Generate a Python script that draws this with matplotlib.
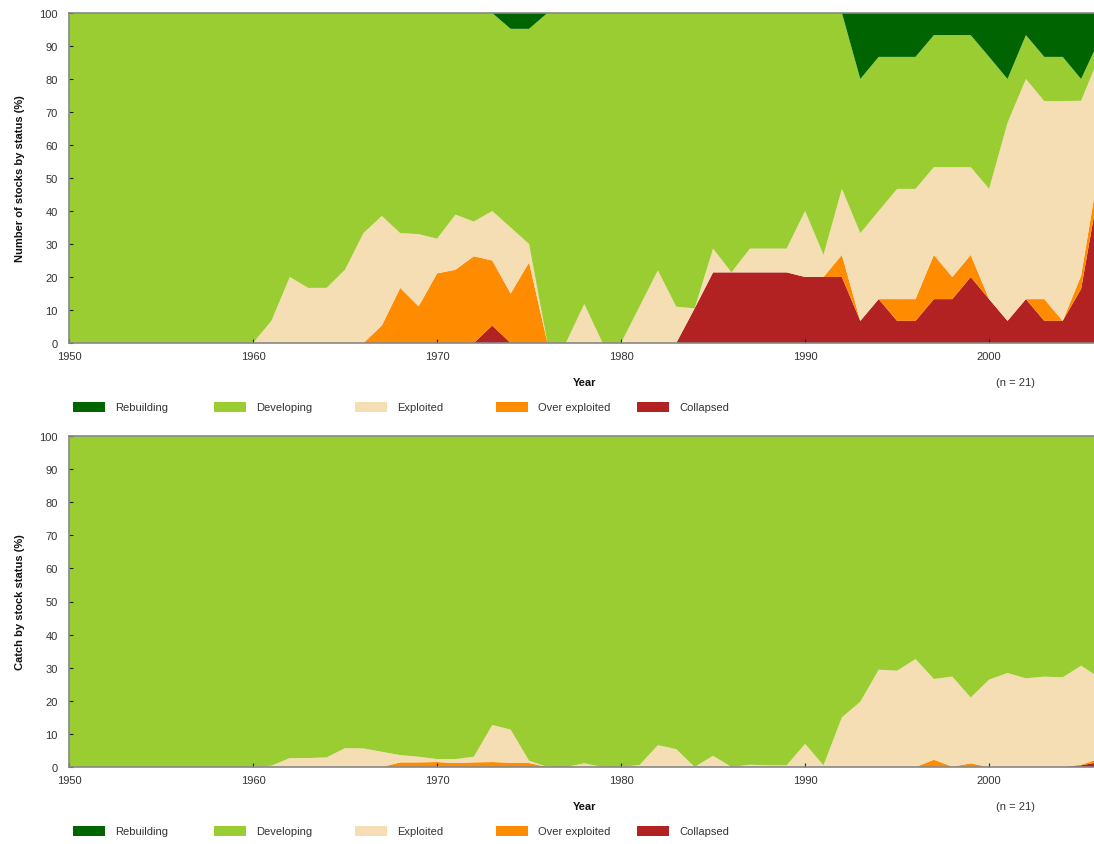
import matplotlib
matplotlib.use("Agg")
import matplotlib.pyplot as plt
from matplotlib.patches import Rectangle

plt.rcParams['font.family'] = ['Liberation Sans', 'DejaVu Sans']

years = list(range(1950, 2007))

# top panel: share of stocks by status (%), one value per year 1950-2006
stock_collapsed = (
    [0, 0, 0, 0, 0, 0, 0, 0, 0, 0] +
    [0, 0, 0, 0, 0, 0, 0, 0, 0, 0] +
    [0, 0, 0, 5.3, 0, 0, 0, 0, 0, 0] +
    [0, 0, 0, 0, 10.5, 21.4, 21.4, 21.4, 21.4, 21.4] +
    [20, 20, 20, 6.7, 13.3, 6.7, 6.7, 13.3, 13.3, 20] +
    [13.3, 6.7, 13.3, 6.7, 6.7, 16.4, 48])
stock_over = (
    [0, 0, 0, 0, 0, 0, 0, 0, 0, 0] +
    [0, 0, 0, 0, 0, 0, 0, 5.3, 16.7, 11.1] +
    [21.1, 22.2, 26.3, 19.7, 15, 24.4, 0, 0, 0, 0] +
    [0, 0, 0, 0, 0, 0, 0, 0, 0, 0] +
    [0, 0, 6.7, 0, 0, 6.6, 6.6, 13.4, 6.7, 6.7] +
    [0, 0, 0, 6.6, 0, 4.0, 6])
stock_exploited = (
    [0, 0, 0, 0, 0, 0, 0, 0, 0, 0] +
    [0, 6.7, 20, 16.7, 16.7, 22.2, 33.3, 33.2, 16.6, 21.9] +
    [10.5, 16.7, 10.5, 15, 20, 5.6, 0, 0, 11.8, 0] +
    [0, 11, 22, 11, 0, 7.2, 0, 7.2, 7.2, 7.2] +
    [20, 6.7, 20, 26.6, 26.7, 33.4, 33.4, 26.6, 33.3, 26.6] +
    [33.4, 60, 66.7, 60, 66.6, 53, 33])
stock_rebuilding = (
    [0, 0, 0, 0, 0, 0, 0, 0, 0, 0] +
    [0, 0, 0, 0, 0, 0, 0, 0, 0, 0] +
    [0, 0, 0, 0, 4.8, 4.8, 0, 0, 0, 0] +
    [0, 0, 0, 0, 0, 0, 0, 0, 0, 0] +
    [0, 0, 0, 20, 13.3, 13.3, 13.3, 6.7, 6.7, 6.7] +
    [13.3, 20, 6.7, 13.3, 13.3, 20, 8])

# bottom panel: share of catch by stock status (%)
catch_collapsed = [0] * 55 + [0.5, 1.5]
catch_over = (
    [0, 0, 0, 0, 0, 0, 0, 0, 0, 0] +
    [0, 0, 0, 0, 0, 0, 0, 0, 1.4, 1.4] +
    [1.5, 1.2, 1.4, 1.5, 1.3, 1.2, 0, 0, 0, 0] +
    [0, 0, 0, 0, 0, 0, 0, 0, 0, 0] +
    [0, 0, 0, 0, 0, 0, 0, 2.2, 0.1, 1.1] +
    [0, 0, 0, 0, 0, 0.2, 1.0])
catch_exploited = (
    [0, 0, 0, 0, 0, 0, 0, 0, 0, 0] +
    [0, 0.4, 2.7, 2.7, 2.9, 5.7, 5.6, 4.6, 2.2, 1.7] +
    [0.9, 1.2, 1.7, 11.2, 10.0, 0.7, 0, 0, 1.1, 0] +
    [0, 0.6, 6.6, 5.4, 0, 3.4, 0, 0.7, 0.5, 0.5] +
    [7, 0.5, 15, 19.7, 29.4, 29.1, 32.6, 24.4, 27.2, 19.9] +
    [26.4, 28.4, 26.8, 27.3, 27.1, 29.9, 24.5])
catch_rebuilding = [0] * 57

labels = ['Rebuilding', 'Developing', 'Exploited', 'Over exploited', 'Collapsed']
colors = {'Rebuilding': '#006400', 'Developing': '#9acd32', 'Exploited': '#f5deb3',
          'Over exploited': '#ff8c00', 'Collapsed': '#b22222'}


def developing(c, o, e, r):
    # whatever is left up to 100% is "developing"
    return [100 - a - b - d - f for a, b, d, f in zip(c, o, e, r)]


fig = plt.figure(figsize=(10.94, 8.45), dpi=100)
W, H = 1094, 845
panels = [
    (14, 344, 'Number of stocks by status (%)',
     [stock_collapsed, stock_over, stock_exploited, stock_rebuilding]),
    (437, 768, 'Catch by stock status (%)',
     [catch_collapsed, catch_over, catch_exploited, catch_rebuilding]),
]

for top, bottom, ylab, (c, o, e, r) in panels:
    ax = fig.add_axes([69 / W, 1 - bottom / H, (W - 69) / W, (bottom - top) / H])
    d = developing(c, o, e, r)
    ax.stackplot(years, c, o, e, d, r,
                 colors=[colors['Collapsed'], colors['Over exploited'],
                         colors['Exploited'], colors['Developing'],
                         colors['Rebuilding']], linewidth=0)
    ax.set_xlim(1950, 2005.7)
    ax.set_ylim(0, 100)
    ax.set_xticks(range(1950, 2001, 10))
    ax.set_yticks(range(0, 101, 10))
    ax.tick_params(direction='in', length=3, width=0.8, colors='#222',
                   labelsize=8, labelcolor='#333', pad=6)
    ax.tick_params(axis='y', pad=8)
    for s in ['top', 'bottom', 'left']:
        ax.spines[s].set_color('#888')
        ax.spines[s].set_linewidth(1.2)
    ax.spines['right'].set_visible(False)
    ax.set_ylabel(ylab, fontsize=8, fontweight='bold', color='#111')
    ax.yaxis.set_label_coords(-0.043, 0.5)

    fig.text(585 / W, 1 - (bottom + 39) / H, 'Year', fontsize=8, fontweight='bold',
             ha='center', va='center', color='#111')
    fig.text(1015 / W, 1 - (bottom + 39) / H, '(n = 21)', fontsize=8,
             ha='center', va='center', color='#333')

    ly = bottom + 64
    for i, lab in enumerate(labels):
        x0 = 73 + 141 * i
        fig.patches.append(Rectangle((x0 / W, 1 - (ly + 5) / H), 32 / W, 10 / H,
                                     transform=fig.transFigure,
                                     facecolor=colors[lab], edgecolor='none'))
        fig.text((x0 + 42) / W, 1 - ly / H, lab, fontsize=8, ha='left',
                 va='center', color='#333')

fig.savefig('out.png', dpi=100)
